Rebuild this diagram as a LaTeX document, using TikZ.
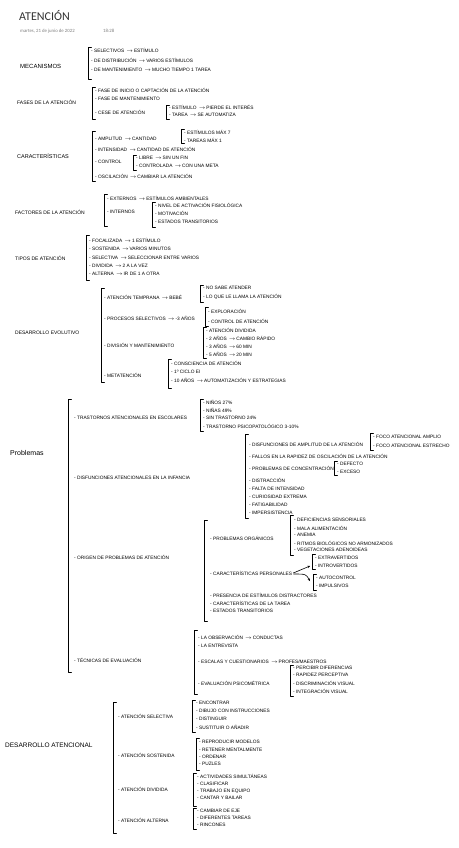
\documentclass[tikz,border=0pt]{standalone}
\usepackage{fontspec}
\setmainfont{Liberation Sans}
\newfontfamily\titlefont{Carlito}
\newcommand\sm{\fontsize{4.8}{5.5}\selectfont}
\newcommand\ar{\,$\rightarrow$\,}
\newcommand\brk[3]{\draw[brk] (#1+3.5,#2) -- (#1,#2) -- (#1,#3) -- (#1+3.5,#3);}
\tikzset{
  it/.style={anchor=west, inner sep=0pt, font=\sm},
  hd/.style={anchor=west, inner sep=0pt, font=\fontsize{#1}{#1}\selectfont},
  hd/.default=5.5,
  brk/.style={line width=0.75pt, line cap=round, line join=round},
  arr/.style={line width=0.6pt, -{Stealth[length=2.5pt,width=2.5pt]}}
}
\usetikzlibrary{arrows.meta}
\begin{document}
\begin{tikzpicture}[x=1pt,y=-1pt]
\useasboundingbox[fill=white] (0,0) rectangle (458,848);
% title
\node[anchor=west,inner sep=0pt,font=\titlefont\fontsize{12}{12}\selectfont,text=black!80] (title) at (19,16) {ATENCIÓN};
\node[anchor=west,inner sep=0pt,font=\titlefont\fontsize{4.8}{5}\selectfont,text=black!50] (date) at (20,31) {martes, 21 de junio de 2022};
\node[anchor=west,inner sep=0pt,font=\titlefont\fontsize{4.8}{5}\selectfont,text=black!50] (time) at (103,31) {18:28};

% Mecanismos
\node[hd=6] (mec) at (20,66) {MECANISMOS};
\brk{88}{47}{79}
\node[it] (mec1) at (91,50) {- SELECTIVOS \ar ESTÍMULO};
\node[it] (mec2) at (91,60) {- DE DISTRIBUCIÓN \ar VARIOS ESTÍMULOS};
\node[it] (mec3) at (91,70) {- DE MANTENIMIENTO \ar MUCHO TIEMPO 1 TAREA};

% Fases
\node[hd=5] (fas) at (17,102) {FASES DE LA ATENCIÓN};
\brk{92}{87}{119}
\node[it] (fas1) at (95,90) {- FASE DE INICIO O CAPTACIÓN DE LA ATENCIÓN};
\node[it] (fas2) at (95,99) {- FASE DE MANTENIMIENTO};
\node[it] (fas3) at (95,112) {- CESE DE ATENCIÓN};
\brk{166}{105}{119}
\node[it] (fas31) at (169,107) {- ESTÍMULO \ar PIERDE EL INTERÉS};
\node[it] (fas32) at (169,115) {- TAREA \ar SE AUTOMATIZA};

% Caracteristicas
\node[hd=5.5] (car) at (17,156) {CARACTERÍSTICAS};
\brk{92}{131}{181}
\node[it] (car1) at (95,139) {- AMPLITUD \ar CANTIDAD};
\brk{181}{129}{143}
\node[it] (car11) at (184,132) {- ESTÍMULOS MÁX 7};
\node[it] (car12) at (184,140) {- TAREAS MÁX 1};
\node[it] (car2) at (95,149) {- INTENSIDAD \ar CANTIDAD DE ATENCIÓN};
\node[it] (car3) at (95,162) {- CONTROL};
\brk{133}{155}{170}
\node[it] (car31) at (136,158) {- LIBRE \ar SIN UN FIN};
\node[it] (car32) at (136,166) {- CONTROLADA \ar CON UNA META};
\node[it] (car4) at (95,176) {- OSCILACIÓN \ar CAMBIAR LA ATENCIÓN};

% Factores
\node[hd=5] (fac) at (15,212) {FACTORES DE LA ATENCIÓN};
\brk{104}{194}{226}
\node[it] (fac1) at (107,198) {- EXTERNOS \ar ESTÍMULOS AMBIENTALES};
\node[it] (fac2) at (107,212) {- INTERNOS};
\brk{152}{202}{227}
\node[it] (fac21) at (155,205) {- NIVEL DE ACTIVACIÓN FISIOLÓGICA};
\node[it] (fac22) at (155,213) {- MOTIVACIÓN};
\node[it] (fac23) at (155,222) {- ESTADOS TRANSITORIOS};

% Tipos
\node[hd=5] (tip) at (15,258) {TIPOS DE ATENCIÓN};
\brk{86}{235}{280}
\node[it] (tip1) at (89,240) {- FOCALIZADA \ar 1 ESTÍMULO};
\node[it] (tip2) at (89,249) {- SOSTENIDA \ar VARIOS MINUTOS};
\node[it] (tip3) at (89,258) {- SELECTIVA \ar SELECCIONAR ENTRE VARIOS};
\node[it] (tip4) at (89,266) {- DIVIDIDA \ar 2 A LA VEZ};
\node[it] (tip5) at (89,274) {- ALTERNA \ar IR DE 1 A OTRA};

% Desarrollo evolutivo
\node[hd=5] (dev) at (15,333) {DESARROLLO EVOLUTIVO};
\brk{101}{288}{382}
\node[it] (dev1) at (104,297) {- ATENCIÓN TEMPRANA \ar BEBÉ};
\brk{200}{285}{302}
\node[it] (dev11) at (203,288) {- NO SABE ATENDER};
\node[it] (dev12) at (203,297) {- LO QUE LE LLAMA LA ATENCIÓN};
\node[it] (dev2) at (104,318) {- PROCESOS SELECTIVOS \ar -3 AÑOS};
\brk{205}{307}{326}
\node[it] (dev21) at (208,311) {- EXPLORACIÓN};
\node[it] (dev22) at (208,321) {- CONTROL DE ATENCIÓN};
\node[it] (dev3) at (104,345) {- DIVISIÓN Y MANTENIMIENTO};
\brk{203}{327}{358}
\node[it] (dev31) at (206,330) {- ATENCIÓN DIVIDIDA};
\node[it] (dev32) at (206,338) {- 2 AÑOS \ar CAMBIO RÁPIDO};
\node[it] (dev33) at (206,346) {- 3 AÑOS \ar 60 MIN};
\node[it] (dev34) at (206,354) {- 5 AÑOS \ar 20 MIN};
\node[it] (dev4) at (104,375) {- METATENCIÓN};
\brk{168}{359}{388}
\node[it] (dev41) at (171,363) {- CONSCIENCIA DE ATENCIÓN};
\node[it] (dev42) at (171,372) {- 1º CICLO EI};
\node[it] (dev43) at (171,380) {- 10 AÑOS \ar AUTOMATIZACIÓN Y ESTRATEGIAS};

% Problemas
\node[hd=7] (pro) at (10,453) {Problemas};
\brk{68}{399}{672}
\node[it] (pro1) at (74,418) {- TRASTORNOS ATENCIONALES EN ESCOLARES};
\brk{200}{399}{431}
\node[it] (pro11) at (203,402) {- NIÑOS 27\%};
\node[it] (pro12) at (203,410) {- NIÑAS 49\%};
\node[it] (pro13) at (203,418) {- SIN TRASTORNO 24\%};
\node[it] (pro14) at (203,426) {- TRASTORNO PSICOPATOLÓGICO 3-10\%};

\node[it] (pro2) at (74,478) {- DISFUNCIONES ATENCIONALES EN LA INFANCIA};
\brk{245}{434}{518}
\node[it] (pro21) at (249,444) {- DISFUNCIONES DE AMPLITUD DE LA ATENCIÓN};
\brk{370}{433}{450}
\node[it] (pro211) at (373,437) {- FOCO ATENCIONAL AMPLIO};
\node[it] (pro212) at (373,446) {- FOCO ATENCIONAL ESTRECHO};
\node[it] (pro22) at (249,456) {- FALLOS EN LA RAPIDEZ DE OSCILACIÓN DE LA ATENCIÓN};
\node[it] (pro23) at (249,468) {- PROBLEMAS DE CONCENTRACIÓN};
\brk{334}{461}{475}
\node[it] (pro231) at (337,464) {- DEFECTO};
\node[it] (pro232) at (337,472) {- EXCESO};
\node[it] (pro24) at (249,480) {- DISTRACCIÓN};
\node[it] (pro25) at (249,489) {- FALTA DE INTENSIDAD};
\node[it] (pro26) at (249,497) {- CURIOSIDAD EXTREMA};
\node[it] (pro27) at (249,505) {- FATIGABILIDAD};
\node[it] (pro28) at (249,513) {- IMPERSISTENCIA};

\node[it] (pro3) at (74,557) {- ORIGEN DE PROBLEMAS DE ATENCIÓN};
\brk{204}{520}{621}
\node[it] (pro31) at (210,538) {- PROBLEMAS ORGÁNICOS};
\brk{290}{515}{555}
\node[it] (pro311) at (294,520) {- DEFICIENCIAS SENSORIALES};
\node[it] (pro312) at (294,528) {- MALA ALIMENTACIÓN};
\node[it] (pro313) at (294,535) {- ANEMIA};
\node[it] (pro314) at (294,543) {- RITMOS BIOLÓGICOS NO ARMONIZADOS};
\node[it] (pro315) at (294,550) {- VEGETACIONES ADENOIDEAS};
\node[it] (pro32) at (210,573) {- CARACTERÍSTICAS PERSONALES};
\brk{312}{554}{569}
\node[it] (pro321) at (315,558) {- EXTRAVERTIDOS};
\node[it] (pro322) at (315,566) {- INTROVERTIDOS};
\brk{313}{574}{590}
\node[it] (pro323) at (316,578) {- AUTOCONTROL};
\node[it] (pro324) at (316,586) {- IMPULSIVOS};
\coordinate (up) at (310,566);
\coordinate (dn) at (310,581);
\draw[arr] ([xshift=1pt]pro32.east) -- (up);
\draw[arr] ([xshift=1pt,yshift=-1pt]pro32.east) .. controls (306,574) .. (dn);
\node[it] (pro33) at (210,595) {- PRESENCIA DE ESTÍMULOS DISTRACTORES};
\node[it] (pro34) at (210,603) {- CARACTERÍSTICAS DE LA TAREA};
\node[it] (pro35) at (210,611) {- ESTADOS TRANSITORIOS};

\node[it] (pro4) at (74,660) {- TÉCNICAS DE EVALUACIÓN};
\brk{194}{630}{694}
\node[it] (pro41) at (198,637) {- LA OBSERVACIÓN \ar CONDUCTAS};
\node[it] (pro42) at (198,646) {- LA ENTREVISTA};
\node[it] (pro43) at (198,662) {- ESCALAS Y CUESTIONARIOS \ar PROFES/MAESTROS};
\node[it] (pro44) at (198,683) {- EVALUACIÓN PSICOMÉTRICA};
\brk{290}{665}{696}
\node[it] (pro441) at (293,668) {- PERCIBIR DIFERENCIAS};
\node[it] (pro442) at (293,675) {- RAPIDEZ PERCEPTIVA};
\node[it] (pro443) at (293,683) {- DISCRIMINACIÓN VISUAL};
\node[it] (pro444) at (293,691) {- INTEGRACIÓN VISUAL};

% Desarrollo atencional
\node[hd=6.5] (dat) at (5,745) {DESARROLLO ATENCIONAL};
\brk{113}{702}{833}
\node[it] (dat1) at (118,716) {- ATENCIÓN SELECTIVA};
\brk{192}{700}{732}
\node[it] (dat11) at (196,703) {- ENCONTRAR};
\node[it] (dat12) at (196,711) {- DIBUJO CON INSTRUCCIONES};
\node[it] (dat13) at (196,719) {- DISTINGUIR};
\node[it] (dat14) at (196,727) {- SUSTITUIR O AÑADIR};
\node[it] (dat2) at (118,755) {- ATENCIÓN SOSTENIDA};
\brk{196}{738}{770}
\node[it] (dat21) at (199,742) {- REPRODUCIR MODELOS};
\node[it] (dat22) at (199,750) {- RETENER MENTALMENTE};
\node[it] (dat23) at (199,757) {- ORDENAR};
\node[it] (dat24) at (199,764) {- PUZLES};
\node[it] (dat3) at (118,789) {- ATENCIÓN DIVIDIDA};
\brk{193}{773}{806}
\node[it] (dat31) at (197,776) {- ACTIVIDADES SIMULTÁNEAS};
\node[it] (dat32) at (197,784) {- CLASIFICAR};
\node[it] (dat33) at (197,791) {- TRABAJO EN EQUIPO};
\node[it] (dat34) at (197,798) {- CANTAR Y BAILAR};
\node[it] (dat4) at (118,820) {- ATENCIÓN ALTERNA};
\brk{193}{808}{829}
\node[it] (dat41) at (197,811) {- CAMBIAR DE EJE};
\node[it] (dat42) at (197,818) {- DIFERENTES TAREAS};
\node[it] (dat43) at (197,825) {- RINCONES};
\end{tikzpicture}
\end{document}
